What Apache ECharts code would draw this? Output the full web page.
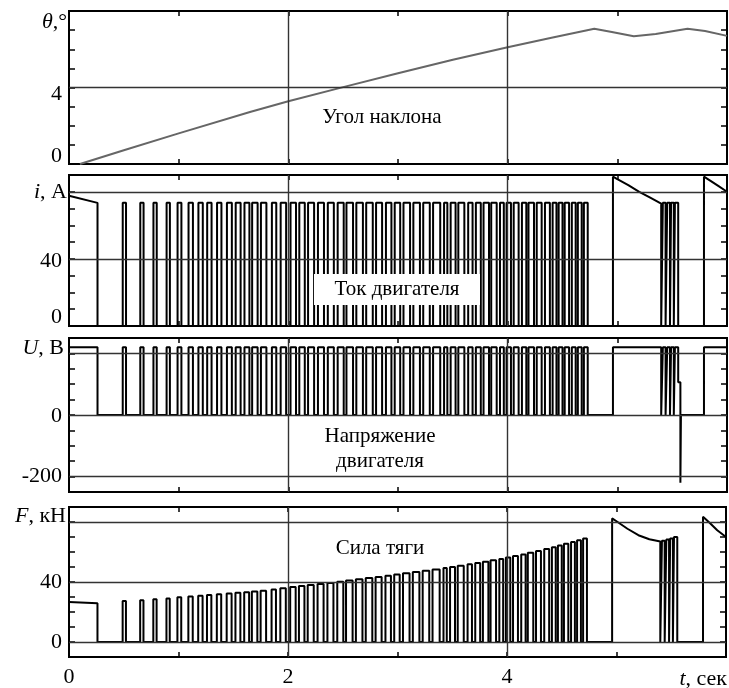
<!DOCTYPE html>
<html><head><meta charset="utf-8">
<script src="https://cdn.jsdelivr.net/npm/echarts@6/dist/echarts.min.js"></script>
<style>html,body{margin:0;padding:0;background:#fff}#c{width:729px;height:688px}</style>
</head><body><div id="c"></div>
<script>
// ---- data ----
// angle of inclination
const thetaT = [0.1, 0.5, 1.0, 1.65, 2.0, 2.5, 3.0, 3.5, 4.0, 4.4, 4.79, 4.95, 5.15, 5.35, 5.64, 5.8, 6.0];
const thetaV = [0, 0.72, 1.6, 2.72, 3.28, 4.02, 4.75, 5.45, 6.1, 6.6, 7.07, 6.9, 6.68, 6.8, 7.07, 6.95, 6.7];

// PWM pulses (s)
const pulseOn  = [0.49,0.65,0.77,0.89,0.99,1.09,1.18,1.26,1.35,1.44,1.52,1.60,1.67,1.75,1.85,1.93,2.02,2.10,2.18,2.27,2.36,2.45,2.53,2.62,2.71,2.80,2.89,2.97,3.05,3.14,3.23,3.32,3.42,3.48,3.55,3.64,3.71,3.78,3.85,3.93,3.99,4.055,4.13,4.19,4.265,4.34,4.41,4.465,4.52,4.585,4.64,4.695];
const pulseOff = [0.52,0.68,0.80,0.92,1.025,1.13,1.22,1.30,1.39,1.485,1.565,1.645,1.72,1.80,1.89,1.98,2.07,2.15,2.235,2.325,2.415,2.505,2.59,2.68,2.77,2.855,2.94,3.02,3.11,3.20,3.29,3.385,3.45,3.525,3.605,3.68,3.755,3.83,3.90,3.965,4.03,4.10,4.17,4.24,4.31,4.385,4.445,4.50,4.56,4.62,4.675,4.73];
const fPulseTop = [27.3,27.8,28.5,29.0,29.8,30.3,30.8,31.3,31.8,32.3,32.8,33.2,33.6,34.2,35.0,35.8,36.6,37.3,38.0,38.7,39.4,40.2,41.0,41.8,42.6,43.4,44.2,45.0,45.8,46.6,47.5,48.4,49.3,50.0,50.8,51.8,52.6,53.5,54.5,55.4,56.3,57.3,58.4,59.5,60.7,62.0,63.2,64.3,65.5,66.7,67.8,69.0];
const iPulseTop = 73.5;
const uPulseTop = 220;

// second burst
const burstOn  = [5.415, 5.455, 5.49, 5.525];
const burstOff = [5.44, 5.48, 5.515, 5.555];
const fBurstTop = [67.5, 68.3, 69.0, 70.0];

// continuous segments
const seg0T = [0, 0.26];  const iSeg0 = [77.6, 73.4]; const fSeg0 = [26.6, 25.8];
const seg1T = [4.96, 5.0, 5.1, 5.2, 5.3, 5.4]; const iSeg1 = [89, 87.5, 84, 80, 76.5, 73]; const fSeg1 = [82.4, 80.5, 75.5, 71.2, 68.5, 67];
const seg2T = [5.79, 5.85, 5.92, 6.0]; const iSeg2 = [89, 86.5, 83.5, 80]; const fSeg2 = [83.5, 79.5, 74.5, 70];
// voltage tail after last burst: [t, U]
const uTailT = [5.555, 5.555, 5.575, 5.575, 5.58, 5.58];
const uTailV = [220, 106, 106, -220, -220, 0];

// axis labels
const xLabels = [0, 2, 4];
const thetaLabels = [0, 4];
const iLabels = [0, 40];
const uLabels = [0, -200];
const fLabels = [0, 40];

// ---- build step traces ----
function seg(ts, vs){ return ts.map((t,k)=>[t, vs[k]]); }
function pulses(on, off, lv){
  const out=[];
  on.forEach((t,k)=>{ const v = Array.isArray(lv)?lv[k]:lv; out.push([t,0],[t,v],[off[k],v],[off[k],0]); });
  return out;
}
function build(s0, p, p1, s1, b, s2){
  const d=[];
  s0.forEach(q=>d.push(q)); d.push([s0[s0.length-1][0],0]);
  p.forEach(q=>d.push(q));
  d.push([s1[0][0],0]); s1.forEach(q=>d.push(q)); d.push([s1[s1.length-1][0],0]);
  b.forEach(q=>d.push(q));
  if (p1) p1.forEach(q=>d.push(q));
  d.push([s2[0][0],0]); s2.forEach(q=>d.push(q));
  return d;
}
const iData = build(seg(seg0T,iSeg0), pulses(pulseOn,pulseOff,iPulseTop), null, seg(seg1T,iSeg1), pulses(burstOn,burstOff,iPulseTop), seg(seg2T,iSeg2));
const uData = build(seg(seg0T,seg0T.map(()=>uPulseTop)), pulses(pulseOn,pulseOff,uPulseTop), seg(uTailT,uTailV), seg([4.96,5.4],[uPulseTop,uPulseTop]), pulses(burstOn,burstOff,uPulseTop).slice(0,-2), seg([5.79,6.0],[uPulseTop,uPulseTop]));
const fData = build(seg(seg0T,fSeg0), pulses(pulseOn,pulseOff,fPulseTop), null, seg(seg1T,fSeg1), pulses(burstOn,burstOff,fBurstTop), seg(seg2T,fSeg2));
const thetaData = seg(thetaT, thetaV);

// ---- layout ----
const FONT = 'Liberation Serif';
const grids = [{top:11,height:153},{top:175,height:151},{top:338,height:154},{top:507,height:151}];
const yRange = [[0,8,1],[0,90,10],[-250,250,50],[-10,90,10]];
const hLines = [[4],[40,80],[200,0,-200],[0,40,80]];
const labelSets = [thetaLabels, iLabels, uLabels, fLabels];
const labelShift = [{0:-8,4:6.5},{0:-8.5,40:2.5},{0:1},{}];

const tickStyle = {color:'#000', width:1.5};
const grid=[], xAxis=[], yAxis=[];
grids.forEach((g,k)=>{
  grid.push({left:69, width:658, top:g.top, height:g.height, show:true, borderColor:'#000', borderWidth:2, backgroundColor:'transparent'});
  const last = k===3;
  xAxis.push({type:'value', gridIndex:k, min:0, max:6, interval:1, position:'bottom',
    axisLine:{show:false, onZero:false}, splitLine:{show:false},
    axisTick:{show:true, inside:true, length:5, lineStyle:tickStyle},
    axisLabel:{show:last, margin:9, color:'#000', fontFamily:FONT, fontSize:22,
      formatter:v=> xLabels.indexOf(v)>=0 ? String(v) : ''}});
  xAxis.push({type:'value', gridIndex:k, min:0, max:6, interval:1, position:'top',
    axisLine:{show:false, onZero:false}, splitLine:{show:false}, axisLabel:{show:false},
    axisTick:{show:true, inside:true, length:5, lineStyle:tickStyle}});
  const [mn,mx,iv]=yRange[k];
  const sh = labelShift[k];
  yAxis.push({type:'value', gridIndex:k, min:mn, max:mx, interval:iv, position:'left',
    axisLine:{show:false, onZero:false}, splitLine:{show:false},
    axisTick:{show:true, inside:true, length:6, lineStyle:tickStyle},
    axisLabel:{show:true, margin:7, color:'#000', fontFamily:FONT, fontSize:22, showMinLabel:true, showMaxLabel:true,
      formatter:v=>{
        if (labelSets[k].indexOf(v)<0) return '';
        const s = sh[v]||0;
        if (s<0) return '{up'+Math.round(-s*2)+'|'+v+'}';
        if (s>0) return '{dn'+Math.round(s*2)+'|'+v+'}';
        return String(v);
      },
      rich:{
        up16:{padding:[0,0,16,0],fontFamily:FONT,fontSize:22,color:'#000'},
        up17:{padding:[0,0,17,0],fontFamily:FONT,fontSize:22,color:'#000'},
        dn13:{padding:[13,0,0,0],fontFamily:FONT,fontSize:22,color:'#000'},
        dn5:{padding:[5,0,0,0],fontFamily:FONT,fontSize:22,color:'#000'},
        dn2:{padding:[2,0,0,0],fontFamily:FONT,fontSize:22,color:'#000'}
      }}});
  yAxis.push({type:'value', gridIndex:k, min:mn, max:mx, interval:iv, position:'right',
    axisLine:{show:false, onZero:false}, splitLine:{show:false}, axisLabel:{show:false},
    axisTick:{show:true, inside:true, length:6, lineStyle:tickStyle}});
});

function markLines(k){
  return {symbol:['none','none'], silent:true, animation:false, label:{show:false},
    lineStyle:{color:'#333', width:1.4, type:'solid'},
    emphasis:{disabled:true},
    data: hLines[k].map(v=>({yAxis:v})).concat([{xAxis:2},{xAxis:4}])};
}
const datasets=[thetaData, iData, uData, fData];
const series = datasets.map((d,k)=>({
  type:'line', xAxisIndex:2*k, yAxisIndex:2*k, data:d, showSymbol:false, symbol:'none',
  animation:false, silent:true,
  lineStyle:{color: k===0?'#666':'#000', width: k===0?2:2},
  markLine: markLines(k), z:3
}));

const txt = (x,y,text,align,extra)=>Object.assign({type:'text', x, y, z:100,
  style:Object.assign({text, fill:'#000', font:'22px "'+FONT+'"', align:align||'center', verticalAlign:'middle'}, extra||{})});
const rich = {it:{fontStyle:'italic', fontFamily:FONT, fontSize:22, fill:'#000'}, n:{fontFamily:FONT, fontSize:22, fill:'#000'}};
const graphic = [
  txt(67,22,'{it|θ}{n|,°}','right',{rich}),
  txt(67,192,'{it|i}{n|, А}','right',{rich}),
  txt(64,348,'{it|U}{n|, В}','right',{rich}),
  txt(66,516,'{it|F}{n|, кН}','right',{rich}),
  txt(727,679,'{it|t}{n|, сек}','right',{rich}),
  {type:'rect', z:99, shape:{x:314,y:274,width:166,height:31}, style:{fill:'#fff'}},
  txt(397,289,'Ток двигателя','center',{font:'21px "'+FONT+'"'}),
  txt(382,117,'Угол наклона','center',{font:'21px "'+FONT+'"'}),
  txt(380,436,'Напряжение','center',{font:'21px "'+FONT+'"'}),
  txt(380,461,'двигателя','center',{font:'21px "'+FONT+'"'}),
  txt(380,548,'Сила тяги','center',{font:'21px "'+FONT+'"'})
];

const chart = echarts.init(document.getElementById('c'), null, {renderer:'canvas'});
chart.setOption({animation:false, backgroundColor:'#fff', grid, xAxis, yAxis, series, graphic});
</script></body></html>
